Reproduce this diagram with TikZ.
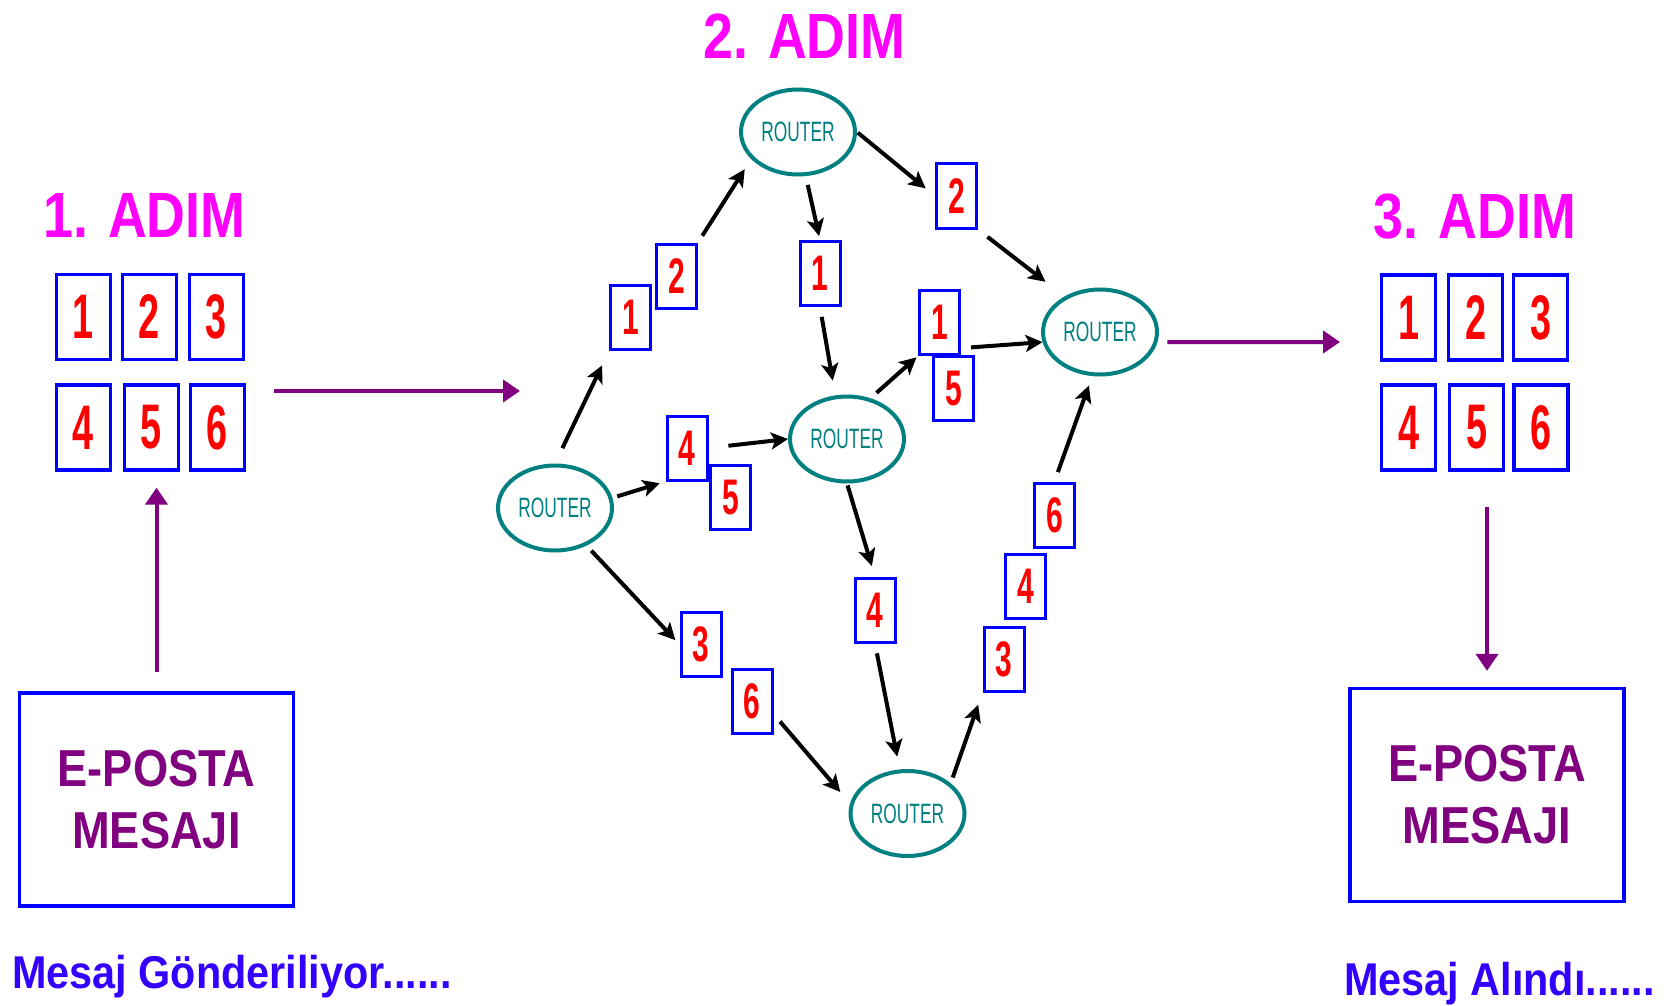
\documentclass[tikz,border=0pt]{standalone}
\usepackage{fontspec}
\setmainfont{Liberation Sans}
\newfontfamily\baslikfont{Liberation Sans}[FakeStretch=0.84]
\newfontfamily\paketfont{Liberation Sans}[FakeStretch=0.6]
\newfontfamily\routerfont{Liberation Sans}[FakeStretch=0.62]
\newfontfamily\postafont{Liberation Sans}[FakeStretch=0.87]
\newfontfamily\durumfont{Liberation Sans}[FakeStretch=0.9]
\usetikzlibrary{shapes.geometric,arrows.meta}

\definecolor{baslikrenk}{RGB}{255,0,255}
\definecolor{routerrenk}{RGB}{0,128,128}
\definecolor{morrenk}{RGB}{128,0,128}
\definecolor{durumrenk}{RGB}{51,0,255}

\tikzset{
  paket/.style={draw=blue, fill=white, line width=3.3pt, minimum width=54pt, minimum height=85pt,
    inner sep=0pt, text=red, font=\paketfont\bfseries\fontsize{63}{63}\selectfont},
  minipaket/.style={paket, line width=3pt, minimum width=40pt, minimum height=64pt,
    font=\paketfont\bfseries\fontsize{50}{50}\selectfont},
  router/.style={ellipse, draw=routerrenk, line width=4pt, minimum width=114pt, minimum height=85pt,
    inner sep=0pt, text=routerrenk, font=\routerfont\fontsize{28}{28}\selectfont},
  baslik/.style={anchor=base, inner sep=0pt, text=baslikrenk, font=\baslikfont\bfseries\fontsize{64}{64}\selectfont},
  posta/.style={draw=blue, line width=3.3pt, minimum width=274pt, minimum height=213pt, align=center,
    text=morrenk, font=\postafont\bfseries\fontsize{52}{62}\selectfont},
  durum/.style={anchor=base west, inner sep=0pt, text=durumrenk, font=\durumfont\bfseries\fontsize{46}{46}\selectfont},
  ok/.style={black, line width=4pt, -{Stealth[length=17pt,width=17pt,inset=4pt]}},
  morok/.style={morrenk, line width=4pt, -{Triangle[length=17pt,width=22pt]}}
}

\begin{document}
\begin{tikzpicture}[x=1pt,y=-1pt] % 1 birim = 1 piksel, y asagi
\useasboundingbox (0,0) rectangle (1674,1006);

%1. ADIM (LINKS)
\node[baslik] (t1) at (144.5,237) {1. ADIM};
\node[paket] (lp1) at (83.5,317) {1};
\node[paket] (lp2) at (149.5,317) {2};
\node[paket] (lp3) at (216.5,317) {3};
\node[paket] (lp4) at (83.5,427.5) {4};
\node[paket] (lp5) at (151.5,427.5) {5};
\node[paket] (lp6) at (217.5,427.5) {6};
\node[posta] (mailL) at (156.5,799.5) {E-POSTA\\MESAJI};
\node[durum] (n1) at (12,988) {Mesaj Gönderiliyor......};
\draw[morok, shorten <=19pt, shorten >=16pt] (mailL.north) -- (mailL.north |- lp5.south);
\coordinate (gidA) at (274,391);
\coordinate (gidB) at (520,391);
\draw[morok] (gidA) -- (gidB);

%2. ADIM (MITTE)
\node[baslik] (t2) at (804.5,59) {2. ADIM};
\node[router] (rleft) at (555,508) {ROUTER};
\node[router] (rtop) at (798,132) {ROUTER};
\node[router] (rmid) at (847,439) {ROUTER};
\node[router] (rright) at (1100,332) {ROUTER};
\node[router] (rbot) at (907.5,813.5) {ROUTER};

%PAKETE
\node[minipaket] (a2) at (676.5,276) {2};
\node[minipaket] (a1) at (630.5,317.5) {1};
\node[minipaket] (b2) at (956.5,196) {2};
\node[minipaket] (b1) at (820,273.5) {1};
\node[minipaket] (c4) at (687,448) {4};
\node[minipaket] (c5) at (730.5,497.5) {5};
\node[minipaket] (d1) at (939.5,322.5) {1};
\node[minipaket] (d5) at (953.5,388.5) {5};
\node[minipaket] (e4) at (875,610) {4};
\node[minipaket] (f3) at (701,644.5) {3};
\node[minipaket] (f6) at (752,701.5) {6};
\node[minipaket] (g6) at (1054.5,515) {6};
\node[minipaket] (g4) at (1025.5,586.5) {4};
\node[minipaket] (g3) at (1004,659) {3};

%PFEILE
\draw[ok, shorten <=17pt, shorten >=16pt] (rleft.north) -- (a1.south west);
\draw[ok, shorten <=8pt, shorten >=12pt] (a2.north east) -- (rtop.210);
\draw[ok, shorten <=1pt, shorten >=12pt] (rtop.east) -- (b2.west);
\draw[ok, shorten <=12pt, shorten >=24pt] (b2.south east) -- (rright.135);
\draw[ok, shorten <=9pt, shorten >=4pt] (rtop.-80) -- (b1.north);
\draw[ok, shorten <=10pt, shorten >=15pt] (b1.south) -- (rmid.105);
\draw[ok, shorten <=5pt, shorten >=6pt] (rleft.10) -- (c4.south west);
\draw[ok, shorten <=20pt] (c4.east) -- (rmid.west);
\draw[ok, shorten <=8pt, shorten >=2pt] (rmid.60) -- (d1.south west);
\draw[ok, shorten <=10pt] (d1.-50) -- (rright.190);
\draw[ok, shorten <=10pt, shorten >=10pt] (g6.north) -- (rright.-100);
\draw[ok, shorten <=2pt, shorten >=11pt] (rmid.south) -- (e4.north);
\draw[ok, shorten <=10pt, shorten >=13pt] (e4.south) -- (rbot.100);
\draw[ok, shorten <=7pt, shorten >=6pt] (rleft.-50) -- (f3.west);
\draw[ok, shorten <=10pt, shorten >=15pt] (f6.-30) -- (rbot.170);
\draw[ok, shorten <=6pt, shorten >=13pt] (rbot.35) -- (g3.south west);

%3. ADIM (RECHTS)
\node[baslik] (t3) at (1475,238) {3. ADIM};
\node[paket] (rp1) at (1408.5,317.5) {1};
\node[paket] (rp2) at (1475.5,317.5) {2};
\node[paket] (rp3) at (1540.5,317.5) {3};
\node[paket] (rp4) at (1408.5,427.5) {4};
\node[paket] (rp5) at (1476.5,427.5) {5};
\node[paket] (rp6) at (1541,427.5) {6};
\node[posta] (mailR) at (1487,795) {E-POSTA\\MESAJI};
\node[durum] (n2) at (1344,995) {Mesaj Alındı......};
\coordinate (alB) at (1340,342);
\draw[morok, shorten <=10pt] (rright.-10) -- (alB);
\draw[morok, shorten <=35pt, shorten >=16pt] (mailR.north |- rp5.south) -- (mailR.north);

\end{tikzpicture}
\end{document}
